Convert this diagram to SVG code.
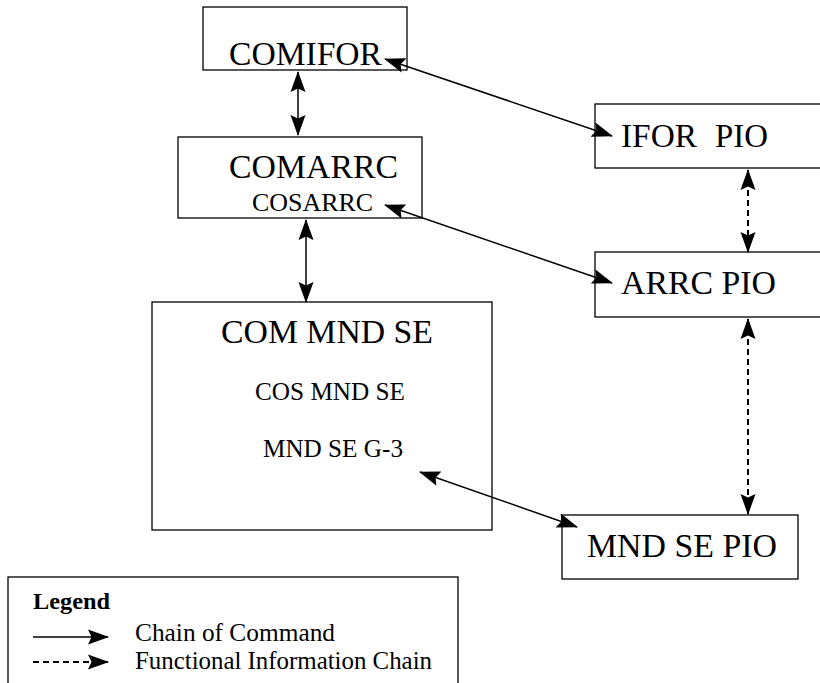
<svg xmlns="http://www.w3.org/2000/svg" width="820" height="683" viewBox="0 0 820 683">
<style>
text{font-family:"Liberation Serif","Tinos","Nimbus Roman","FreeSerif","DejaVu Serif","Noto Serif","Times New Roman",Times,serif;fill:#000}
.box{fill:#fff;stroke:#000;stroke-width:1.3}
.big{font-size:33px}
.small{font-size:25px}
.leg{font-size:24px;font-weight:bold}
.ln{fill:none;stroke:#000;stroke-width:1.5}
.dash{stroke-dasharray:6,4;stroke-width:2}
</style>
<defs>
<marker id="ah" markerUnits="userSpaceOnUse" markerWidth="22" markerHeight="16" refX="20" refY="8" orient="auto-start-reverse" viewBox="0 0 22 16">
<path d="M0,0.5 L21,8 L0,15.5 L3.5,8 Z" fill="#000"/>
</marker>
</defs>
<g id="legend">
<rect class="box" x="8" y="577" width="450" height="120"/>
<text class="leg" x="33" y="609" textLength="77" lengthAdjust="spacingAndGlyphs">Legend</text>
<line class="ln" x1="33" y1="637" x2="108" y2="637" marker-end="url(#ah)"/>
<text class="small" x="135" y="641" textLength="200" lengthAdjust="spacingAndGlyphs">Chain of Command</text>
<line class="ln dash" x1="33" y1="662" x2="108" y2="662" marker-end="url(#ah)"/>
<text class="small" x="135" y="669" textLength="297" lengthAdjust="spacingAndGlyphs">Functional Information Chain</text>
</g>
<g id="comifor">
<rect class="box" x="203" y="7" width="204" height="63"/>
<text class="big" x="229" y="65" textLength="153" lengthAdjust="spacingAndGlyphs">COMIFOR</text>
</g>
<g id="comarrc">
<rect class="box" x="178" y="137" width="244" height="81"/>
<text class="big" x="229" y="178" textLength="169" lengthAdjust="spacingAndGlyphs">COMARRC</text>
<text class="small" x="252" y="211" textLength="121" lengthAdjust="spacingAndGlyphs">COSARRC</text>
</g>
<g id="commndse">
<rect class="box" x="152" y="302" width="340" height="228"/>
<text class="big" x="221" y="343" textLength="212" lengthAdjust="spacingAndGlyphs">COM MND SE</text>
<text class="small" x="255" y="400" textLength="150" lengthAdjust="spacingAndGlyphs">COS MND SE</text>
<text class="small" x="263" y="457" textLength="140" lengthAdjust="spacingAndGlyphs">MND SE G-3</text>
</g>
<g id="iforpio">
<rect class="box" x="595" y="104" width="240" height="64"/>
<text class="big" y="147"><tspan x="621" textLength="76" lengthAdjust="spacingAndGlyphs">IFOR</tspan><tspan x="715" textLength="53" lengthAdjust="spacingAndGlyphs">PIO</tspan></text>
</g>
<g id="arrcpio">
<rect class="box" x="595" y="252" width="240" height="65"/>
<text class="big" x="621" y="294" textLength="155" lengthAdjust="spacingAndGlyphs">ARRC PIO</text>
</g>
<g id="mndsepio">
<rect class="box" x="562" y="515" width="236" height="64"/>
<text class="big" x="587" y="557" textLength="190" lengthAdjust="spacingAndGlyphs">MND SE PIO</text>
</g>
<g id="connectors">
<line class="ln" x1="298" y1="72" x2="298" y2="135" marker-start="url(#ah)" marker-end="url(#ah)"/>
<line class="ln" x1="385" y1="59" x2="612" y2="136" marker-start="url(#ah)" marker-end="url(#ah)"/>
<line class="ln" x1="385" y1="205" x2="612" y2="283" marker-start="url(#ah)" marker-end="url(#ah)"/>
<line class="ln" x1="306" y1="220" x2="306" y2="302" marker-start="url(#ah)" marker-end="url(#ah)"/>
<line class="ln dash" x1="748" y1="170" x2="748" y2="252" marker-start="url(#ah)" marker-end="url(#ah)"/>
<line class="ln dash" x1="748" y1="319" x2="748" y2="514" marker-start="url(#ah)" marker-end="url(#ah)"/>
<line class="ln" x1="420" y1="472" x2="577" y2="527" marker-start="url(#ah)" marker-end="url(#ah)"/>
</g>
</svg>
